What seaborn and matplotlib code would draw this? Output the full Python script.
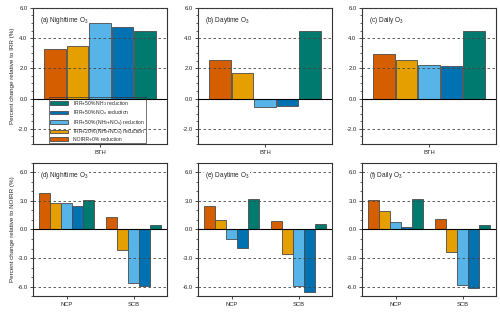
import pandas as pd
import seaborn as sns
import matplotlib.pyplot as plt
from matplotlib.ticker import MultipleLocator

# scenario names (bar order) and colours
scenarios = ["NOIRR+0% reduction",
             "IRR+20% (NH$_3$+NO$_x$) reduction",
             "IRR+50% (NH$_3$+NO$_x$) reduction",
             "IRR+50% NO$_x$ reduction",
             "IRR+50% NH$_3$ reduction"]
colors = ["#D55E00", "#E69F00", "#56B4E9", "#0072B2", "#00796E"]

# top row: change relative to IRR, BTH only
top_regions = ["BTH"]
night_irr = [3.31, 3.51, 5.02, 4.73, 4.47]
day_irr = [2.58, 1.67, -0.56, -0.49, 4.47]
daily_irr = [2.93, 2.58, 2.22, 2.13, 4.47]

# bottom row: change relative to NOIRR, NCP and SCB
bot_regions = ["NCP", "SCB"]
night_ncp = [3.80, 2.76, 2.76, 2.48, 3.12]
night_scb = [1.31, -2.17, -5.59, -5.97, 0.45]
day_ncp = [2.48, 1.00, -1.03, -1.90, 3.24]
day_scb = [0.93, -2.59, -5.97, -6.55, 0.62]
daily_ncp = [3.10, 1.90, 0.83, 0.31, 3.17]
daily_scb = [1.10, -2.38, -5.79, -6.20, 0.52]

titles = ["(a) Nighttime O$_3$", "(b) Daytime O$_3$", "(c) Daily O$_3$",
          "(d) Nighttime O$_3$", "(e) Daytime O$_3$", "(f) Daily O$_3$"]


def make_df(regions, series):
    rows = []
    for reg, vals in zip(regions, series):
        for sc, v in zip(scenarios, vals):
            rows.append({"region": reg, "scenario": sc, "value": v})
    return pd.DataFrame(rows)


panels = [make_df(top_regions, [night_irr]),
          make_df(top_regions, [day_irr]),
          make_df(top_regions, [daily_irr]),
          make_df(bot_regions, [night_ncp, night_scb]),
          make_df(bot_regions, [day_ncp, day_scb]),
          make_df(bot_regions, [daily_ncp, daily_scb])]

sns.set_theme(style="ticks")
plt.rcParams["font.family"] = ["Liberation Sans", "DejaVu Sans"]
plt.rcParams["mathtext.fontset"] = "custom"
plt.rcParams["mathtext.rm"] = "Liberation Sans"

fig = plt.figure(figsize=(5, 3.15), dpi=100)
lefts = [0.066, 0.396, 0.724]
axes = []
for i in range(6):
    if i < 3:
        ax = fig.add_axes([lefts[i % 3], 0.543, 0.268, 0.432])
    else:
        ax = fig.add_axes([lefts[i % 3], 0.060, 0.268, 0.423])
    axes.append(ax)

for i, (ax, df) in enumerate(zip(axes, panels)):
    sns.barplot(data=df, x="region", y="value", hue="scenario",
                hue_order=scenarios, palette=colors, saturation=1,
                width=0.84 if i < 3 else 0.82, gap=0.05,
                edgecolor="#4a4a4a", linewidth=0.6, ax=ax, zorder=2)
    if i < 3:
        ax.set_ylim(-3, 6)
        ax.yaxis.set_major_locator(MultipleLocator(2))
        ax.yaxis.set_minor_locator(MultipleLocator(0.5))
        ax.set_xlim(-0.5, 0.5)
    else:
        ax.set_ylim(-7, 7)
        ax.yaxis.set_major_locator(MultipleLocator(3))
        ax.yaxis.set_minor_locator(MultipleLocator(1))
        ax.set_xlim(-0.5, 1.5)
    ax.yaxis.set_major_formatter(plt.FormatStrFormatter("%.1f"))
    lo, hi = ax.get_ylim()
    for t in ax.get_yticks():
        if lo <= t <= hi:
            if t == 0:
                ax.axhline(0, color="black", lw=0.8, zorder=3)
            else:
                ax.axhline(t, color="#444444", lw=0.6, ls=(0, (3, 3)), zorder=3)
    ax.tick_params(axis="both", labelsize=4.2, width=0.6, length=2.5, pad=1.5)
    ax.tick_params(axis="y", which="minor", width=0.5, length=1.5)
    for sp in ax.spines.values():
        sp.set_color("#333333")
        sp.set_linewidth(0.8)
    ax.set_xlabel("")
    ax.set_ylabel("")
    ax.text(0.05, 0.95, titles[i], transform=ax.transAxes, fontsize=4.7,
            va="top", ha="left", zorder=5,
            bbox=dict(facecolor="white", edgecolor="none", pad=0.5))
    leg = ax.get_legend()
    if leg is not None:
        leg.remove()

axes[0].set_ylabel("Percent change relative to IRR (%)", fontsize=4.5, labelpad=2)
axes[3].set_ylabel("Percent change relative to NOIRR (%)", fontsize=4.5, labelpad=2)

handles, labels = axes[0].get_legend_handles_labels()
leg = axes[0].legend(handles[::-1], labels[::-1], loc="lower center",
                     bbox_to_anchor=(0.48, 0.0), fontsize=3.6, frameon=True,
                     fancybox=False, facecolor="none", edgecolor="#333333",
                     handlelength=3.5, handleheight=0.8, labelspacing=0.1,
                     borderpad=0.3, handletextpad=1.0, borderaxespad=0.15)
leg.get_frame().set_linewidth(0.6)
leg.set_zorder(4)

fig.savefig("out.png", dpi=100)
